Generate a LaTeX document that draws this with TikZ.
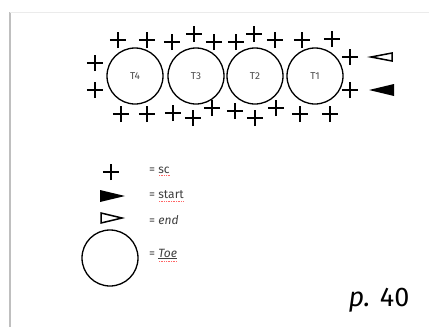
\documentclass[tikz,border=0pt]{standalone}
\usepackage{fontspec}
\setmainfont{Fira Sans}
\usetikzlibrary{shapes.misc}
\begin{document}
\begin{tikzpicture}[x=1pt,y=-1pt,
  scmark/.style={draw,cross out,rotate=45,minimum size=10pt,inner sep=0pt,line width=1.6pt},
  toe/.style={draw,circle,minimum size=56pt,inner sep=0pt,line width=1.3pt,font=\fontsize{10}{11}\selectfont,text=black!70},
  keytext/.style={anchor=west,inner sep=1pt,font=\fontsize{12}{13}\selectfont,text=black!75}]
\useasboundingbox (0,0) rectangle (429,327);
\fill[white] (0,0) rectangle (429,327);
\draw[black!25,line width=2pt] (10,12) -- (10,327);
\draw[black!8,line width=0.8pt] (10,12) -- (429,12);
% toes
\node[toe] (t4) at (135,76) {T4};
\node[toe] (t3) at (196,76) {T3};
\node[toe] (t2) at (255,76) {T2};
\node[toe] (t1) at (315,76) {T1};
% top row
\node[scmark] (u1) at (118,40) {};
\node[scmark] (u2) at (147,40) {};
\node[scmark] (u3) at (172,42) {};
\node[scmark] (u4) at (194,34) {};
\node[scmark] (u5) at (214,42) {};
\node[scmark] (u6) at (236,42) {};
\node[scmark] (u7) at (254,34) {};
\node[scmark] (u8) at (275,40) {};
\node[scmark] (u9) at (302,40) {};
\node[scmark] (u10) at (332,39) {};
% bottom row
\node[scmark] (d1) at (121,114) {};
\node[scmark] (d2) at (147,114) {};
\node[scmark] (d3) at (173,113) {};
\node[scmark] (d4) at (193,118) {};
\node[scmark] (d5) at (212,108) {};
\node[scmark] (d6) at (235,111) {};
\node[scmark] (d7) at (255,118) {};
\node[scmark] (d8) at (276,108) {};
\node[scmark] (d9) at (300,114) {};
\node[scmark] (d10) at (330,114) {};
% sides
\node[scmark] (l1) at (95,63) {};
\node[scmark] (l2) at (95,90) {};
\node[scmark] (r1) at (350,57) {};
\node[scmark] (r2) at (350,90) {};
% end and start
\draw[line width=1.5pt,line join=miter] (371,57) -- (392,53) -- (392,61) -- cycle;
\fill (369,90) -- (394,84) -- (394,96) -- cycle;
% key
\node[scmark] (ksc) at (111,172) {};
\node[keytext] (lsc) at (148,170) {= sc};
\fill (100,190) -- (125,196) -- (100,202) -- cycle;
\node[keytext] (lstart) at (148,195) {= start};
\draw[line width=1.5pt,line join=miter] (101,213) -- (122,218) -- (101,223) -- cycle;
\node[keytext] (lend) at (148,220) {= \textit{end}};
\node[toe] (ktoe) at (110,258) {};
\node[keytext] (ltoe) at (148,254) {= \textit{\underline{Toe}}};
\draw[red!60,densely dotted,line width=0.7pt] ([xshift=11pt,yshift=-1pt]lsc.south west) -- ([xshift=-1pt,yshift=-1pt]lsc.south east);
\draw[red!60,densely dotted,line width=0.7pt] ([xshift=11pt,yshift=-1pt]lstart.south west) -- ([xshift=-1pt,yshift=-1pt]lstart.south east);
\draw[red!60,densely dotted,line width=0.7pt] ([xshift=11pt,yshift=-1pt]ltoe.south west) -- ([xshift=-1pt,yshift=-1pt]ltoe.south east);
\node[anchor=center,font=\fontsize{27}{29}\selectfont] (page) at (379,300) {\textit{p.} 40};
\end{tikzpicture}
\end{document}
